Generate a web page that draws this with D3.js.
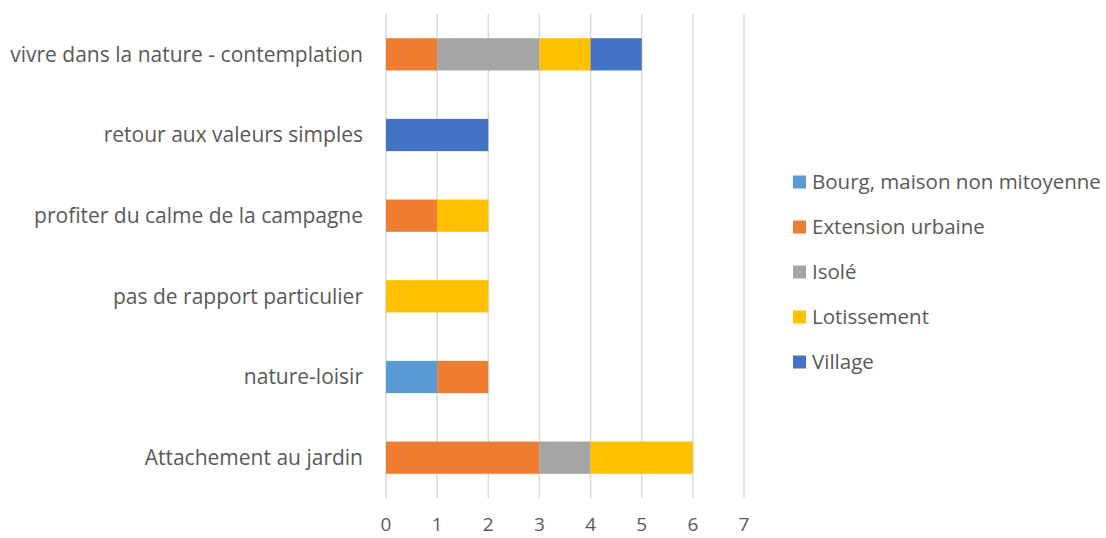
<!DOCTYPE html>
<html><head><meta charset="utf-8">
<script src="https://cdn.jsdelivr.net/npm/d3@7"></script>
<style>body{margin:0;background:#fff}svg{display:block}</style>
</head><body><svg id="c" width="1106" height="538"></svg>
<script>
const categories = ["vivre dans la nature - contemplation","retour aux valeurs simples","profiter du calme de la campagne","pas de rapport particulier","nature-loisir","Attachement au jardin"];
const seriesNames = ["Bourg, maison non mitoyenne","Extension urbaine","Isolé","Lotissement","Village"];
const seriesColors = ["#5B9BD5","#ED7D31","#A5A5A5","#FFC000","#4472C4"];
const bourg = [0,0,0,0,1,0];
const extension = [1,0,1,0,1,3];
const isole = [2,0,0,0,0,1];
const lotissement = [1,0,1,2,0,2];
const village = [1,2,0,0,0,0];
const xTicks = [0,1,2,3,4,5,6,7];

const seriesVals = [bourg, extension, isole, lotissement, village];
const rows = categories.map((c,i)=>{const r={cat:c}; seriesNames.forEach((s,j)=>r[s]=seriesVals[j][i]); return r;});
const stack = d3.stack().keys(seriesNames)(rows);

const svg = d3.select("#c");
const font = "'Open Sans', sans-serif";
const x = d3.scaleLinear().domain([0,7]).range([386,744]);
const y = d3.scaleBand().domain(categories).range([14,498]).paddingInner(0.6).paddingOuter(0.3);

svg.append("g").selectAll("line").data(xTicks).join("line")
  .attr("x1",d=>x(d)).attr("x2",d=>x(d)).attr("y1",14).attr("y2",498)
  .attr("stroke","#D9D9D9").attr("stroke-width",1.5);

svg.append("g").selectAll("g").data(stack).join("g")
  .attr("fill",(d,i)=>seriesColors[i])
  .selectAll("rect").data(d=>d).join("rect")
  .attr("x",d=>x(d[0])).attr("width",d=>x(d[1])-x(d[0]))
  .attr("y",d=>y(d.data.cat)).attr("height",y.bandwidth());

svg.append("g").selectAll("text").data(xTicks).join("text")
  .attr("x",d=>x(d)).attr("y",524).attr("dy","0.35em").attr("text-anchor","middle")
  .attr("font-family",font).attr("font-size",19).attr("fill","#595959").text(d=>d);

svg.append("g").selectAll("text").data(categories).join("text")
  .attr("x",363).attr("y",d=>y(d)+y.bandwidth()/2).attr("dy","0.35em").attr("text-anchor","end")
  .attr("font-family",font).attr("font-size",21).attr("fill","#595959").text(d=>d);

const ly = d3.scalePoint().domain(seriesNames).range([182,362]);
const lg = svg.append("g").selectAll("g").data(seriesNames).join("g");
lg.append("rect").attr("x",793).attr("y",d=>ly(d)-6.5).attr("width",13).attr("height",13)
  .attr("fill",(d,i)=>seriesColors[i]);
lg.append("text").attr("x",812).attr("y",d=>ly(d)).attr("dy","0.35em")
  .attr("font-family",font).attr("font-size",20.5).attr("fill","#595959").text(d=>d);
</script></body></html>
